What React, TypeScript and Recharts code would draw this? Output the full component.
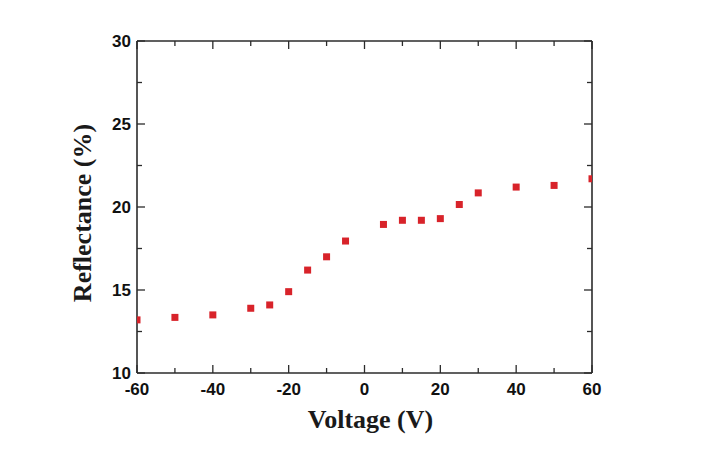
import React from 'react';
import { ScatterChart, Scatter, XAxis, YAxis } from 'recharts';

const voltages = [-60, -50, -40, -30, -25, -20, -15, -10, -5, 5, 10, 15, 20, 25, 30, 40, 50, 60];
const reflectance = [13.2, 13.35, 13.5, 13.9, 14.1, 14.9, 16.2, 17.0, 17.95, 18.95, 19.2, 19.2, 19.3, 20.15, 20.85, 21.2, 21.3, 21.7];
const xTicks = [-60, -50, -40, -30, -20, -10, 0, 10, 20, 30, 40, 50, 60];
const yTicks = [10, 12.5, 15, 17.5, 20, 22.5, 25, 27.5, 30];

const data = voltages.map((v, i) => ({ v, r: reflectance[i] }));

const AX = '#2b2b2b';
const TICK_FONT = '"Liberation Sans", Arial, sans-serif';
const TITLE_FONT = '"Liberation Serif", "Times New Roman", serif';

const BottomTick = (props: any) => {
  const { x, y, payload } = props;
  const major = payload.value % 20 === 0;
  return (
    <g>
      <line x1={x} x2={x} y1={y} y2={y - (major ? 8 : 5)} stroke={AX} strokeWidth={1.3} />
      {major && (
        <text x={x} y={y + 22} textAnchor="middle" fontFamily={TICK_FONT} fontWeight="bold" fontSize={17} fill="#111">
          {payload.value}
        </text>
      )}
    </g>
  );
};

const TopTick = (props: any) => {
  const { x, y, payload } = props;
  const major = payload.value % 20 === 0;
  return <line x1={x} x2={x} y1={y} y2={y + (major ? 8 : 5)} stroke={AX} strokeWidth={1.3} />;
};

const LeftTick = (props: any) => {
  const { x, y, payload } = props;
  const major = payload.value % 5 === 0;
  return (
    <g>
      <line x1={x} x2={x + (major ? 8 : 5)} y1={y} y2={y} stroke={AX} strokeWidth={1.3} />
      {major && (
        <text x={x - 6} y={y + 6} textAnchor="end" fontFamily={TICK_FONT} fontWeight="bold" fontSize={17} fill="#111">
          {payload.value}
        </text>
      )}
    </g>
  );
};

const RightTick = (props: any) => {
  const { x, y, payload } = props;
  const major = payload.value % 5 === 0;
  return <line x1={x} x2={x - (major ? 8 : 5)} y1={y} y2={y} stroke={AX} strokeWidth={1.3} />;
};

const Square = (props: any) => {
  const { cx, cy } = props;
  if (cx == null || cy == null) return null;
  return <rect x={cx - 3.5} y={cy - 3.5} width={7} height={7} fill="#d8232a" />;
};

const XTitle = (props: any) => {
  const vb = props.viewBox || {};
  return (
    <text x={vb.x + vb.width / 2 + 6} y={vb.y + 55} textAnchor="middle" fontFamily={TITLE_FONT} fontWeight="bold" fontSize={26} fill="#1a1a1a">
      Voltage (V)
    </text>
  );
};

const YTitle = (props: any) => {
  const vb = props.viewBox || {};
  const cx = vb.x + 14;
  const cy = vb.y + vb.height / 2 + 6;
  return (
    <text x={cx} y={cy} transform={`rotate(-90, ${cx}, ${cy})`} textAnchor="middle" fontFamily={TITLE_FONT} fontWeight="bold" fontSize={26} fill="#1a1a1a">
      Reflectance (%)
    </text>
  );
};

export default function App() {
  return (
    <ScatterChart width={715} height={458} margin={{ top: 23, right: 121, bottom: 33, left: 69 }}>
      <XAxis
        xAxisId="bottom"
        dataKey="v"
        type="number"
        domain={[-60, 60]}
        ticks={xTicks}
        interval={0}
        height={60}
        tickSize={0}
        tickMargin={0}
        tickLine={false}
        tick={<BottomTick />}
        axisLine={{ stroke: AX, strokeWidth: 1.6 }}
        allowDataOverflow
        label={<XTitle />}
      />
      <XAxis
        xAxisId="top"
        orientation="top"
        dataKey="v"
        type="number"
        domain={[-60, 60]}
        ticks={xTicks}
        interval={0}
        height={10}
        tickSize={0}
        tickMargin={0}
        tickLine={false}
        tick={<TopTick />}
        axisLine={{ stroke: AX, strokeWidth: 1.6 }}
        allowDataOverflow
      />
      <YAxis
        yAxisId="left"
        dataKey="r"
        type="number"
        domain={[10, 30]}
        ticks={yTicks}
        interval={0}
        width={60}
        tickSize={0}
        tickMargin={0}
        tickLine={false}
        tick={<LeftTick />}
        axisLine={{ stroke: AX, strokeWidth: 1.6 }}
        allowDataOverflow
        label={<YTitle />}
      />
      <YAxis
        yAxisId="right"
        orientation="right"
        dataKey="r"
        type="number"
        domain={[10, 30]}
        ticks={yTicks}
        interval={0}
        width={10}
        tickSize={0}
        tickMargin={0}
        tickLine={false}
        tick={<RightTick />}
        axisLine={{ stroke: AX, strokeWidth: 1.6 }}
        allowDataOverflow
      />
      <Scatter data={data} xAxisId="bottom" yAxisId="left" shape={<Square />} isAnimationActive={false} />
      <Scatter data={data} xAxisId="top" yAxisId="right" shape={() => null} isAnimationActive={false} />
    </ScatterChart>
  );
}
